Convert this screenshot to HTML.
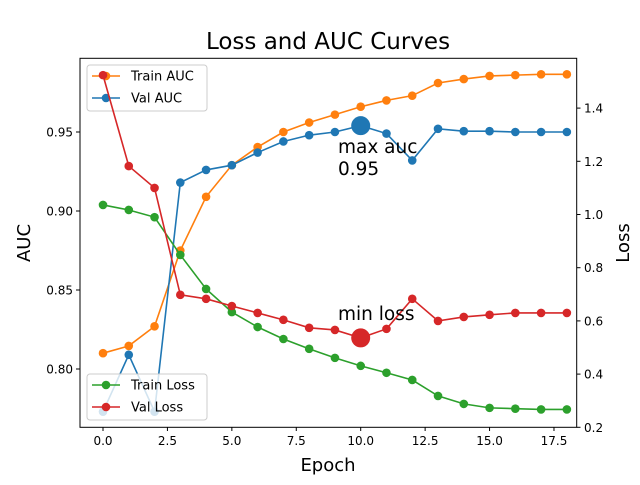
<!DOCTYPE html>
<html><head><meta charset="utf-8"><style>body{margin:0;background:#fff}svg{font-family:"DejaVu Sans","Liberation Sans",sans-serif}</style></head>
<body>
<svg id="chart" width="640" height="480">
<text x="328" y="49" font-size="23" text-anchor="middle">Loss and AUC Curves</text>
<g id="plot"></g>
<rect x="80" y="58.3" width="496.7" height="369" fill="none" stroke="#000" stroke-width="1"/>
<text x="328" y="471" font-size="18" text-anchor="middle">Epoch</text>
<text transform="translate(30,243) rotate(-90)" font-size="18" text-anchor="middle">AUC</text>
<text transform="translate(629,243) rotate(-90)" font-size="18" text-anchor="middle">Loss</text>
</svg>
<script>
const epochs=[0,1,2,3,4,5,6,7,8,9,10,11,12,13,14,15,16,17,18];
const trainAuc=[0.810,0.8146,0.827,0.875,0.909,0.929,0.9405,0.950,0.956,0.961,0.966,0.970,0.973,0.981,0.9835,0.9855,0.986,0.9865,0.9865];
const valAuc=[0.773,0.809,0.773,0.918,0.926,0.929,0.937,0.944,0.948,0.950,0.954,0.949,0.932,0.952,0.9505,0.9505,0.950,0.950,0.950];
const trainLoss=[1.036,1.017,0.99,0.848,0.72,0.633,0.577,0.532,0.495,0.461,0.431,0.405,0.378,0.318,0.288,0.273,0.27,0.267,0.267];
const valLoss=[1.524,1.182,1.10,0.698,0.683,0.656,0.63,0.604,0.574,0.566,0.536,0.57,0.683,0.60,0.615,0.623,0.63,0.63,0.63];
const xTicks=[0,2.5,5,7.5,10,12.5,15,17.5];
const xTickLabels=["0.0","2.5","5.0","7.5","10.0","12.5","15.0","17.5"];
const aucTicks=[0.80,0.85,0.90,0.95];
const aucTickLabels=["0.80","0.85","0.90","0.95"];
const lossTicks=[0.2,0.4,0.6,0.8,1.0,1.2,1.4];
const lossTickLabels=["0.2","0.4","0.6","0.8","1.0","1.2","1.4"];

const X=v=>103+v*25.77;
const YA=v=>369-(v-0.8)*1580;
const YL=v=>427.3-(v-0.2)*266;
const NS="http://www.w3.org/2000/svg";
const svg=document.getElementById('chart');
const plot=document.getElementById('plot');
function mk(tag,attrs,parent){const e=document.createElementNS(NS,tag);for(const k in attrs)e.setAttribute(k,attrs[k]);(parent||plot).appendChild(e);return e;}

function series(vals,Y,color,name){
  const g=mk('g',{});
  
  
  const pts=vals.map((v,i)=>X(epochs[i])+','+Y(v)).join(' ');
  const l=mk('polyline',{points:pts,fill:'none',stroke:color,'stroke-width':1.6},g);
  
  
  vals.forEach((v,i)=>{
    const c=mk('circle',{cx:X(epochs[i]),cy:Y(v),r:4.3,fill:color},g);
    
    
  });
}
function legend(parent,y,items,name){
  const g=mk('g',{},parent);
  
  
  mk('rect',{x:87,y:y,width:120,height:46,rx:3,fill:'#fff','fill-opacity':0.8,stroke:'#ccc'},g);
  items.forEach((it,i)=>{
    const cy=y+11+i*22;
    const e=mk('g',{},g);
    
    
    mk('line',{x1:92,x2:120,y1:cy,y2:cy,stroke:it[1],'stroke-width':1.6},e);
    mk('circle',{cx:106,cy:cy,r:4.3,fill:it[1]},e);
    const t=mk('text',{x:131,y:cy+4.5,'font-size':13},e);t.textContent=it[0];
  });
}
series(trainAuc,YA,'#ff7f0e','train-auc');
series(valAuc,YA,'#1f77b4','val-auc');
let mi=0;valAuc.forEach((v,i)=>{if(v>valAuc[mi])mi=i;});
const hA=mk('circle',{cx:X(epochs[mi]),cy:YA(valAuc[mi]),r:9.5,fill:'#1f77b4'});


const t1=mk('text',{x:338,y:153,'font-size':18.5});t1.textContent='max auc';


const t2=mk('text',{x:338,y:175,'font-size':18.5});t2.textContent=valAuc[mi].toFixed(2);


legend(plot,65,[['Train AUC','#ff7f0e'],['Val AUC','#1f77b4']],'legend-auc');

series(trainLoss,YL,'#2ca02c','train-loss');
series(valLoss,YL,'#d62728','val-loss');
let li=0;valLoss.forEach((v,i)=>{if(v<valLoss[li])li=i;});
const hL=mk('circle',{cx:X(epochs[li]),cy:YL(valLoss[li]),r:9.5,fill:'#d62728'});


const t3=mk('text',{x:338,y:320,'font-size':18.5});t3.textContent='min loss';


legend(plot,374,[['Train Loss','#2ca02c'],['Val Loss','#d62728']],'legend-loss');

xTicks.forEach((v,i)=>{
  const t=mk('line',{x1:X(v),x2:X(v),y1:427.3,y2:431,stroke:'#000'},svg);
  
  
  const l=mk('text',{x:X(v),y:445,'font-size':12,'text-anchor':'middle'},svg);l.textContent=xTickLabels[i];
  
  
});
aucTicks.forEach((v,i)=>{
  const t=mk('line',{x1:76,x2:80,y1:YA(v),y2:YA(v),stroke:'#000'},svg);
  
  
  const l=mk('text',{x:73,y:YA(v)+4.5,'font-size':12,'text-anchor':'end'},svg);l.textContent=aucTickLabels[i];
  
  
});
lossTicks.forEach((v,i)=>{
  const t=mk('line',{x1:576.7,x2:580.5,y1:YL(v),y2:YL(v),stroke:'#000'},svg);
  
  
  const l=mk('text',{x:584,y:YL(v)+4.5,'font-size':12},svg);l.textContent=lossTickLabels[i];
  
  
});
</script>
</body></html>
